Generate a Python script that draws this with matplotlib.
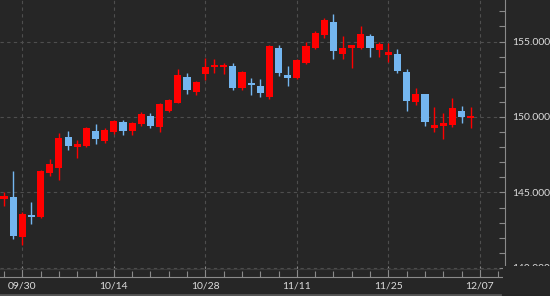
import matplotlib
matplotlib.use('Agg')
import matplotlib.pyplot as plt
from matplotlib.patches import Rectangle
from matplotlib.lines import Line2D
from matplotlib.ticker import FixedLocator, MultipleLocator, FuncFormatter
import numpy as np

# ローソク足データ（始値・高値・安値・終値）
opens = [144.55, 144.7, 142.05, 143.5, 143.4, 146.3, 146.6, 148.7, 148.0, 148.1,
         149.1, 148.4, 149.0, 149.7, 149.1, 149.55, 150.05, 149.35, 150.4, 150.95,
         152.65, 151.65, 152.85, 153.3, 153.3, 153.4, 151.9, 152.25, 152.05, 151.3,
         154.55, 152.8, 152.55, 153.6, 154.6, 155.4, 156.3, 154.15, 154.6, 154.6,
         155.35, 154.45, 154.1, 154.15, 153.0, 151.0, 151.5, 149.3, 149.4, 149.5,
         150.4, 149.95]
highs = [145.0, 146.4, 143.7, 144.4, 146.5, 147.2, 148.95, 149.05, 148.5, 149.35,
         149.55, 149.3, 149.8, 149.8, 149.7, 150.35, 150.25, 150.9, 151.2, 153.2,
         152.9, 152.4, 153.9, 153.85, 153.6, 153.6, 153.05, 152.6, 152.5, 154.75,
         154.75, 153.4, 153.85, 155.0, 155.7, 156.55, 156.8, 155.35, 154.8, 156.0,
         155.5, 155.0, 154.9, 154.5, 153.2, 151.9, 151.55, 150.65, 150.25, 151.25,
         150.75, 150.65]
lows = [144.1, 141.95, 141.5, 142.9, 143.3, 146.1, 145.8, 147.8, 147.3, 148.0,
        148.2, 148.3, 148.9, 148.8, 148.8, 149.4, 149.3, 149.0, 150.3, 150.9,
        151.5, 151.45, 152.45, 152.9, 152.85, 151.8, 151.8, 151.45, 151.3, 151.2,
        152.7, 152.05, 152.5, 153.5, 154.5, 155.2, 153.85, 153.85, 153.25, 154.5,
        154.0, 153.95, 153.65, 152.9, 150.4, 150.8, 149.4, 149.0, 148.55, 149.35,
        149.6, 149.3]
closes = [144.75, 142.1, 143.6, 143.4, 146.4, 146.9, 148.6, 148.1, 148.2, 149.3,
          148.55, 149.15, 149.75, 149.1, 149.6, 150.2, 149.4, 150.85, 151.1, 152.8,
          151.8, 152.3, 153.3, 153.45, 153.45, 151.9, 153.0, 152.15, 151.6, 154.7,
          152.9, 152.6, 153.8, 154.7, 155.55, 156.4, 154.4, 154.6, 154.75, 155.5,
          154.55, 154.85, 154.3, 153.05, 151.05, 151.5, 149.67, 149.5, 149.6, 150.6,
          150.0, 150.05]

date_labels = ['09/30', '10/14', '10/28', '11/11', '11/25', '12/07']
date_idx = [2, 12, 22, 32, 42, 52]

bg = '#262626'
up_color = '#ff0000'
down_color = '#74b6f0'
text_color = '#dcdcdc'
axis_color = '#8a8a8a'

fig = plt.figure(figsize=(5.5, 2.96), dpi=100, facecolor=bg)
ax = fig.add_axes([0, 19 / 296, 505 / 550, 277 / 296])
ax.set_facecolor(bg)

x = np.arange(len(opens))
o = np.array(opens)
c = np.array(closes)
colors = [up_color if cc >= oo else down_color for oo, cc in zip(o, c)]
bottoms = np.minimum(o, c)
heights = np.maximum(np.abs(c - o), 0.12)

ax.vlines(x, lows, highs, colors=colors, linewidth=1.0, zorder=3)
ax.bar(x, heights, bottom=bottoms, width=0.78, color=colors, linewidth=0, zorder=4)

ax.set_xlim(-0.44, 54.75)
ax.set_ylim(139.4, 157.75)

# 目盛り
ax.xaxis.set_major_locator(FixedLocator(date_idx))
ax.set_xticklabels(date_labels)
ax.xaxis.set_minor_locator(MultipleLocator(2))
ax.yaxis.tick_right()
ax.yaxis.set_major_locator(MultipleLocator(5))
ax.yaxis.set_minor_locator(MultipleLocator(1))
ax.yaxis.set_major_formatter(FuncFormatter(lambda v, p: f'{v:.3f}'))

ax.tick_params(axis='x', which='major', direction='in', length=8, width=0.8,
               color=axis_color, labelcolor=text_color, labelsize=7.5, pad=3)
ax.tick_params(axis='x', which='minor', direction='in', length=4, width=0.8,
               color=axis_color)
ax.tick_params(axis='y', which='both', direction='in', length=4.5, width=0.8,
               color=axis_color, labelcolor=text_color, labelsize=7.5, pad=5.5)

for side in ['top', 'left']:
    ax.spines[side].set_visible(False)
for side in ['bottom', 'right']:
    ax.spines[side].set_color(axis_color)
    ax.spines[side].set_linewidth(0.8)

ax.grid(True, which='major', color='#4e4e4e', linestyle=(0, (3, 3)), linewidth=0.8)
ax.set_axisbelow(True)

# 140.000 のラベル下半分を隠す
fig.patches.append(Rectangle((503 / 550, 0), 1, 30 / 296, transform=fig.transFigure,
                             facecolor=bg, edgecolor='none', zorder=10))
# 下端の区切り線
fig.lines.append(Line2D([0, 500 / 550], [1.5 / 296, 1.5 / 296], transform=fig.transFigure,
                        color='#555555', linewidth=2))
fig.lines.append(Line2D([0, 500 / 550], [27 / 296, 27 / 296], transform=fig.transFigure,
                        color='#3a3a3a', linewidth=0.8))

for lab in ax.get_xticklabels() + ax.get_yticklabels():
    lab.set_family(['Lato', 'DejaVu Sans'])

fig.savefig('out.png', dpi=100, facecolor=bg)
